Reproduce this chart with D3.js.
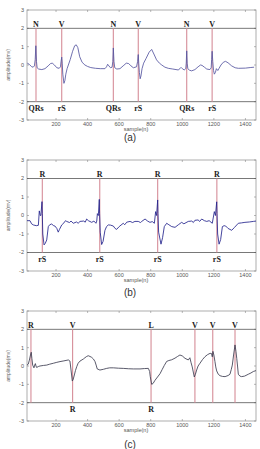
<!DOCTYPE html>
<html>
<head>
<meta charset="utf-8">
<script src="https://cdn.jsdelivr.net/npm/d3@7"></script>
<style>
body { margin: 0; background: #fff; }
</style>
</head>
<body>
<script>
// samples on the x axis, amplitude (mv) on the y axis
const xTicks = [200, 400, 600, 800, 1000, 1200, 1400];
const yTicks = [-3, -2, -1, 0, 1, 2, 3];

// (a)
const sigA = [[18,0.1],[30,0.04],[45,-0.09],[55,-0.12],[63,-0.05],[68,0.3],[72,1.05],[76,0.2],[80,-0.15],[90,-0.22],
  [110,-0.25],[130,-0.2],[150,-0.05],[165,0.08],[176,0.1],[190,0.0],[205,-0.15],[220,-0.18],[228,-0.1],[232,0.2],
  [236,0.43],[239,0.1],[243,-0.5],[250,-1.0],[256,-0.85],[262,-0.5],[270,-0.2],[278,0.0],[290,0.3],[305,0.75],
  [318,1.05],[328,1.1],[338,0.95],[350,0.45],[365,0.15],[383,0.0],[400,-0.08],[420,-0.14],[450,-0.18],[480,-0.2],
  [510,-0.2],[520,-0.1],[527,0.04],[535,-0.05],[545,-0.15],[555,-0.12],[560,0.2],[563,0.93],[567,0.2],[572,-0.15],
  [585,-0.22],[605,-0.2],[625,-0.05],[645,0.1],[660,0.08],[675,-0.05],[690,-0.15],[710,-0.1],[717,0.2],[721,0.57],
  [724,0.1],[728,-0.4],[733,-0.75],[738,-0.6],[745,-0.2],[755,0.1],[770,0.35],[790,0.7],[806,0.85],[820,0.6],
  [837,0.28],[855,0.1],[870,0.0],[890,-0.12],[911,-0.18],[940,-0.22],[974,-0.27],[985,-0.2],[992,-0.13],[1000,-0.2],
  [1012,-0.27],[1022,-0.2],[1025,0.1],[1028,0.77],[1031,0.1],[1035,-0.2],[1045,-0.28],[1059,-0.32],[1080,-0.25],
  [1100,-0.1],[1115,0.0],[1125,-0.02],[1140,-0.12],[1155,-0.22],[1175,-0.25],[1183,-0.15],[1186,0.3],[1189,0.75],
  [1193,0.2],[1198,-0.3],[1203,-0.5],[1210,-0.4],[1216,-0.2],[1225,-0.3],[1233,-0.18],[1245,0.0],[1260,0.15],
  [1274,0.2],[1290,0.12],[1313,-0.05],[1335,-0.15],[1355,-0.18],[1400,-0.17],[1430,-0.14],[1455,-0.12]];
const marksA = [73, 236, 563, 721, 1028, 1189];
const topA = ["N", "V", "N", "V", "N", "V"];
const bottomA = ["QRs", "rS", "QRs", "rS", "QRs", "rS"];

// (b)
const sigB = [[16,-0.28],[35,-0.28],[45,-0.45],[56,-0.51],[75,-0.55],[88,-0.53],[94,0.25],[100,0.0],[104,0.0],[111,0.75],
  [113,0.1],[116,-1.0],[124,-1.59],[132,-1.5],[141,-1.32],[151,-0.6],[160,-0.5],[172,-0.46],[185,-0.55],[193,-0.57],
  [205,-0.7],[214,-0.9],[222,-0.75],[236,-0.51],[250,-0.4],[260,-0.28],[267,-0.32],[285,-0.38],[295,-0.3],[309,-0.42],
  [330,-0.35],[340,-0.42],[352,-0.32],[375,-0.3],[385,-0.36],[394,-0.19],[405,-0.28],[426,-0.37],[440,-0.3],[453,-0.42],
  [458,-0.3],[462,0.1],[468,0.0],[474,0.87],[476,0.1],[480,-0.9],[489,-1.57],[498,-1.4],[510,-0.8],[520,-0.6],
  [531,-0.51],[545,-0.52],[563,-0.57],[574,-0.7],[584,-0.75],[600,-0.6],[626,-0.42],[635,-0.5],[648,-0.36],[669,-0.32],
  [685,-0.38],[700,-0.32],[721,-0.32],[735,-0.38],[743,-0.32],[764,-0.19],[780,-0.3],[795,-0.37],[810,-0.33],[823,-0.42],
  [831,0.21],[837,0.0],[844,0.84],[846,0.1],[850,-0.9],[865,-1.55],[875,-1.2],[886,-0.6],[901,-0.42],[915,-0.5],
  [933,-0.6],[954,-0.64],[975,-0.5],[996,-0.37],[1010,-0.45],[1038,-0.32],[1060,-0.3],[1070,-0.38],[1080,-0.26],
  [1100,-0.24],[1110,-0.32],[1123,-0.19],[1140,-0.28],[1155,-0.32],[1170,-0.28],[1190,-0.42],[1203,0.21],[1210,0.0],
  [1218,0.74],[1220,0.1],[1224,-1.0],[1233,-1.55],[1243,-1.3],[1254,-0.6],[1265,-0.55],[1275,-0.57],[1290,-0.7],
  [1313,-0.8],[1330,-0.65],[1355,-0.42],[1375,-0.4],[1397,-0.37],[1425,-0.35],[1450,-0.32],[1467,-0.3]];
const marksB = [113, 477, 844, 1219];
const topB = ["R", "R", "R", "R"];
const bottomB = ["rS", "rS", "rS", "rS"];

// (c)
const sigC = [[16,0.05],[24,0.1],[31,0.32],[38,0.6],[43,0.75],[47,0.4],[52,0.05],[60,-0.1],[65,0.05],[69,0.13],[73,0.0],
  [77,-0.08],[90,-0.02],[98,0.0],[120,0.03],[141,0.05],[160,0.1],[183,0.15],[205,0.2],[225,0.24],[250,0.28],[278,0.33],
  [288,0.27],[295,-0.22],[303,-0.82],[308,-0.75],[316,-0.49],[323,-0.25],[331,-0.04],[340,0.15],[352,0.27],[373,0.38],
  [383,0.45],[394,0.52],[404,0.56],[415,0.52],[426,0.47],[437,0.38],[447,0.24],[454,0.05],[461,-0.16],[478,-0.22],
  [500,-0.18],[521,-0.13],[540,-0.1],[563,-0.1],[595,-0.12],[626,-0.13],[660,-0.15],[690,-0.16],[732,-0.16],[760,-0.14],
  [785,-0.13],[793,-0.3],[797,-0.58],[806,-1.0],[815,-0.95],[827,-0.78],[843,-0.6],[859,-0.42],[872,-0.2],[886,0.03],
  [901,0.25],[915,0.3],[933,0.34],[954,0.43],[970,0.52],[985,0.6],[1000,0.55],[1017,0.42],[1038,0.33],[1048,0.45],
  [1055,0.2],[1063,-0.05],[1076,-0.6],[1083,-0.45],[1091,-0.22],[1100,0.0],[1112,0.15],[1128,0.35],[1144,0.51],
  [1160,0.62],[1176,0.69],[1185,0.68],[1190,0.5],[1194,0.8],[1200,0.6],[1207,0.24],[1212,-0.05],[1218,-0.27],
  [1228,-0.45],[1239,-0.53],[1255,-0.57],[1271,-0.58],[1290,-0.52],[1302,-0.45],[1310,-0.2],[1317,0.05],[1325,0.6],
  [1334,1.15],[1340,0.8],[1345,0.42],[1350,0.0],[1355,-0.45],[1365,-0.55],[1376,-0.58],[1395,-0.55],[1418,-0.45],
  [1435,-0.38],[1450,-0.3],[1467,-0.25]];
const marksC = [41, 305, 802, 1080, 1193, 1334];
const topC = ["R", "V", "L", "V", "V", "V"];
const bottomC = ["", "R", "R", "", "", ""];

const width = 260, height = 449;
const left = 27, right = 256;

const svg = d3.select("body").append("svg")
    .attr("width", width)
    .attr("height", height)
    .style("font-family", "Liberation Sans, Arial, sans-serif");

const x = d3.scaleLinear().domain([16, 1467]).range([left, right]);

const panels = [
    { sig: sigA, marks: marksA, top: topA, bottom: bottomA, y0: 10, y1: 120, caption: "(a)", capY: 141, color: "#5656a0" },
    { sig: sigB, marks: marksB, top: topB, bottom: bottomB, y0: 160, y1: 271, caption: "(b)", capY: 296, color: "#24248c" },
    { sig: sigC, marks: marksC, top: topC, bottom: bottomC, y0: 311, y1: 421, caption: "(c)", capY: 448, color: "#3c3c50" }
];

panels.forEach(function (p, i) {
    const y = d3.scaleLinear().domain([-3, 3]).range([p.y1, p.y0]);
    const g = svg.append("g");

    g.append("clipPath").attr("id", "clip" + i)
        .append("rect")
        .attr("x", left).attr("y", p.y0)
        .attr("width", right - left).attr("height", p.y1 - p.y0);

    // box
    g.append("rect")
        .attr("x", left).attr("y", p.y0)
        .attr("width", right - left).attr("height", p.y1 - p.y0)
        .attr("fill", "none").attr("stroke", "#9a9a9a").attr("stroke-width", 0.8);

    // inward ticks
    g.selectAll(".xt").data(xTicks).enter().append("path")
        .attr("d", function (d) { return "M" + x(d) + "," + p.y1 + "v-2M" + x(d) + "," + p.y0 + "v2"; })
        .attr("stroke", "#888").attr("stroke-width", 0.6);
    g.selectAll(".yt").data(yTicks).enter().append("path")
        .attr("d", function (d) { return "M" + left + "," + y(d) + "h2M" + right + "," + y(d) + "h-2"; })
        .attr("stroke", "#888").attr("stroke-width", 0.6);

    g.selectAll(".xl").data(xTicks).enter().append("text")
        .attr("x", function (d) { return x(d); })
        .attr("y", p.y1 + 6)
        .attr("text-anchor", "middle")
        .attr("font-size", 5.5).attr("fill", "#555")
        .text(function (d) { return d; });
    g.selectAll(".yl").data(yTicks).enter().append("text")
        .attr("x", left - 3)
        .attr("y", function (d) { return y(d); })
        .attr("dy", "0.35em")
        .attr("text-anchor", "end")
        .attr("font-size", 5.5).attr("fill", "#555")
        .text(function (d) { return d; });

    g.append("text")
        .attr("x", 136)
        .attr("y", p.y1 + 10.5)
        .attr("text-anchor", "middle")
        .attr("font-size", 5.5).attr("fill", "#555")
        .text("sample(n)");
    g.append("text")
        .attr("transform", "translate(10," + ((p.y0 + p.y1) / 2) + ") rotate(-90)")
        .attr("text-anchor", "middle")
        .attr("font-size", 5).attr("fill", "#666")
        .text("amplitude(mv)");

    // threshold lines
    g.selectAll(".hl").data([2, -2]).enter().append("line")
        .attr("x1", left).attr("x2", right)
        .attr("y1", function (d) { return y(d); })
        .attr("y2", function (d) { return y(d); })
        .attr("stroke", "#555").attr("stroke-width", 0.8);

    // beat markers
    g.selectAll(".mk").data(p.marks).enter().append("line")
        .attr("x1", function (d) { return x(d); })
        .attr("x2", function (d) { return x(d); })
        .attr("y1", y(2)).attr("y2", y(-2))
        .attr("stroke", "#d68d98").attr("stroke-width", 1.1);

    const line = d3.line()
        .x(function (d) { return x(d[0]); })
        .y(function (d) { return y(d[1]); });

    g.append("path")
        .datum(p.sig)
        .attr("clip-path", "url(#clip" + i + ")")
        .attr("d", line)
        .attr("fill", "none")
        .attr("stroke", p.color)
        .attr("stroke-width", 0.85);

    g.selectAll(".tl").data(p.marks).enter().append("text")
        .attr("x", function (d) { return x(d); })
        .attr("y", y(2) - 1.8)
        .attr("text-anchor", "middle")
        .attr("font-family", "Liberation Serif, Times New Roman, serif")
        .attr("font-weight", "bold")
        .attr("font-size", 8).attr("fill", "#222")
        .text(function (d, j) { return p.top[j]; });
    g.selectAll(".bl").data(p.marks).enter().append("text")
        .attr("x", function (d) { return x(d); })
        .attr("y", y(-2) + 9)
        .attr("text-anchor", "middle")
        .attr("font-family", "Liberation Serif, Times New Roman, serif")
        .attr("font-weight", "bold")
        .attr("font-size", 8).attr("fill", "#222")
        .text(function (d, j) { return p.bottom[j]; });

    g.append("text")
        .attr("x", 130).attr("y", p.capY)
        .attr("text-anchor", "middle")
        .attr("font-size", 10).attr("fill", "#333")
        .text(p.caption);
});
</script>
</body>
</html>
